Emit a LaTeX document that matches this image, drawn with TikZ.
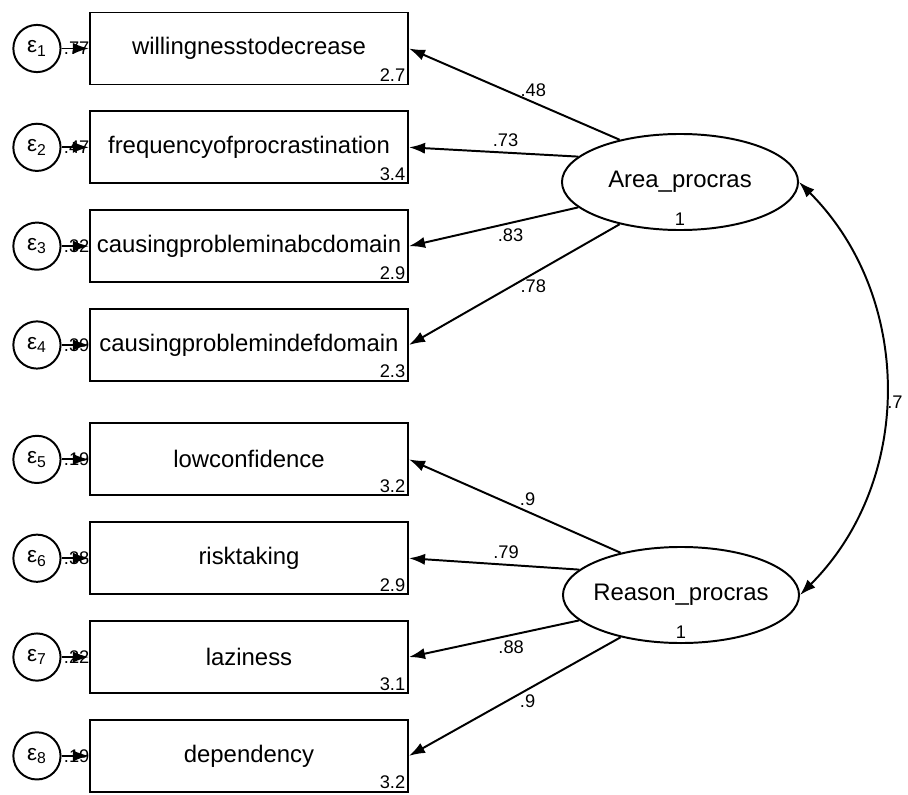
\documentclass[tikz,border=0pt]{standalone}
\usepackage{fontspec}
\setmainfont{Liberation Sans}
\usetikzlibrary{positioning,shapes.geometric,arrows.meta}
\tikzset{
  obsbox/.style={draw, line width=1.4pt, minimum width=7.95cm, minimum height=1.8cm, inner sep=0pt, font=\fontsize{17}{20}\selectfont},
  latent/.style={ellipse, draw, line width=1.4pt, minimum width=5.9cm, minimum height=2.4cm, inner sep=0pt, font=\fontsize{17}{20}\selectfont},
  errnode/.style={circle, draw, line width=1.4pt, minimum size=1.18cm, inner sep=0pt, font=\fontsize{16}{18}\selectfont},
  meanlab/.style={anchor=south east, inner sep=2pt, font=\fontsize{13}{15}\selectfont},
  varlab/.style={anchor=west, inner sep=1pt, font=\fontsize{13}{15}\selectfont},
  coef/.style={font=\fontsize{13}{15}\selectfont},
}
\begin{document}
\begin{tikzpicture}[x=0.025cm, y=-0.025cm, node distance=2.47cm, >={Latex[length=4mm,width=2.8mm]}, line width=1.4pt]
		\useasboundingbox (0,0) rectangle (908,795);
		% indicators
		\node(b1)[obsbox, label={[meanlab]south east:2.7}] at (249,48.5){willingnesstodecrease};
		\node(b2)[obsbox, below of=b1, label={[meanlab]south east:3.4}]{frequencyofprocrastination};
		\node(b3)[obsbox, below of=b2, label={[meanlab]south east:2.9}]{causingprobleminabcdomain};
		\node(b4)[obsbox, below of=b3, label={[meanlab]south east:2.3}]{causingproblemindefdomain};
		\node(b5)[obsbox, below of=b4, node distance=2.86cm, label={[meanlab]south east:3.2}]{lowconfidence};
		\node(b6)[obsbox, below of=b5, label={[meanlab]south east:2.9}]{risktaking};
		\node(b7)[obsbox, below of=b6, label={[meanlab]south east:3.1}]{laziness};
		\node(b8)[obsbox, below of=b7, label={[meanlab]south east:3.2}]{dependency};
		% errors
		\node(e1)[errnode, left of=b1, node distance=5.3cm, label={[varlab]east:.77}]{ε\textsubscript{1}};
		\node(e2)[errnode, left of=b2, node distance=5.3cm, label={[varlab]east:.47}]{ε\textsubscript{2}};
		\node(e3)[errnode, left of=b3, node distance=5.3cm, label={[varlab]east:.32}]{ε\textsubscript{3}};
		\node(e4)[errnode, left of=b4, node distance=5.3cm, label={[varlab]east:.39}]{ε\textsubscript{4}};
		\node(e5)[errnode, left of=b5, node distance=5.3cm, label={[varlab]east:.19}]{ε\textsubscript{5}};
		\node(e6)[errnode, left of=b6, node distance=5.3cm, label={[varlab]east:.38}]{ε\textsubscript{6}};
		\node(e7)[errnode, left of=b7, node distance=5.3cm, label={[varlab]east:.22}]{ε\textsubscript{7}};
		\node(e8)[errnode, left of=b8, node distance=5.3cm, label={[varlab]east:.19}]{ε\textsubscript{8}};
		% latent factors
		\node(A)[latent, label={[coef, anchor=south, inner sep=3pt]south:1}] at (680,182){\makebox[0pt]{Area\_procras}};
		\node(R)[latent, label={[coef, anchor=south, inner sep=3pt]south:1}] at (681,595){\makebox[0pt]{Reason\_procras}};
		\draw[->](e1) to (b1);
		\draw[->](e2) to (b2);
		\draw[->](e3) to (b3);
		\draw[->](e4) to (b4);
		\draw[->](e5) to (b5);
		\draw[->](e6) to (b6);
		\draw[->](e7) to (b7);
		\draw[->](e8) to (b8);
		\draw[->](A.145) to node[coef, pos=.41, above]{.48}(b1.east);
		\draw[->](A.166) to node[coef, pos=.43, above]{.73}(b2.east);
		\draw[->](A.194) to node[coef, pos=.40, below]{.83}(b3.east);
		\draw[->](A.215) to node[coef, pos=.41, below]{.78}(b4.east);
		\draw[->](R.145) to node[coef, pos=.44, above]{.9}(b5.east);
		\draw[->](R.166) to node[coef, pos=.43, above]{.79}(b6.east);
		\draw[->](R.194) to node[coef, pos=.40, below]{.88}(b7.east);
		\draw[->](R.215) to node[coef, pos=.44, below]{.9}(b8.east);
		\draw[<->](A.east) to[out=-45, in=45] node[coef, anchor=west, inner sep=1pt, pos=.53]{.7}(R.east);
	\end{tikzpicture}
\end{document}
